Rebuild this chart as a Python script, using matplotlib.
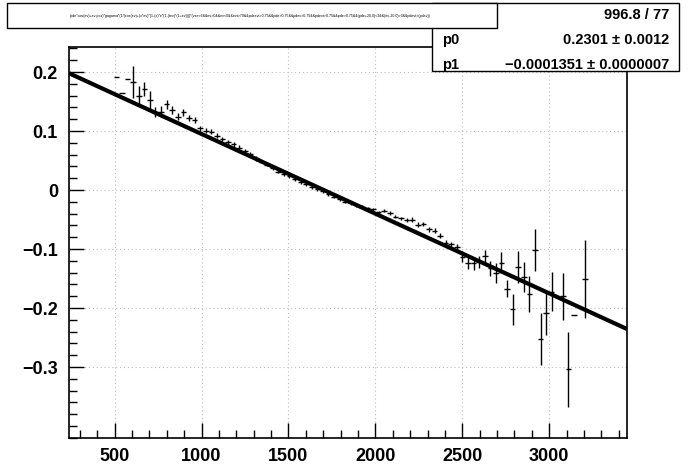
import matplotlib
matplotlib.use("Agg")
import matplotlib.pyplot as plt
from matplotlib.patches import Rectangle
from matplotlib.ticker import MultipleLocator, FixedLocator
import numpy as np

W, H = 696, 472

# ---- data ----
bin_width = 32.09
x_centers = [510.8, 542.9, 575.0, 607.1, 639.2, 671.2, 703.3, 735.4, 767.5, 799.6,
             831.7, 863.8, 895.9, 928.0, 960.1, 992.2, 1024.3, 1056.3, 1088.4, 1120.5,
             1152.6, 1184.7, 1216.8, 1248.9, 1281.0, 1313.1, 1345.2, 1377.3, 1409.4, 1441.4,
             1473.5, 1505.6, 1537.7, 1569.8, 1601.9, 1634.0, 1666.1, 1698.2, 1730.3, 1762.4,
             1794.5, 1826.5, 1858.6, 1890.7, 1922.8, 1954.9, 1987.0, 2019.1, 2051.2, 2083.3,
             2115.4, 2147.5, 2179.6, 2211.6, 2243.7, 2275.8, 2307.9, 2340.0, 2372.1, 2404.2,
             2436.3, 2468.4, 2500.5, 2532.6, 2564.7, 2596.7, 2628.8, 2660.9, 2693.0, 2725.1,
             2757.2, 2789.3, 2821.4, 2853.5, 2885.6, 2917.7, 2949.8, 2981.8, 3013.9, 3078.1,
             3110.2, 3142.3, 3206.5]
y_values = [0.192, 0.164, 0.188, 0.1836, 0.160, 0.171, 0.153, 0.132, 0.133, 0.145,
            0.136, 0.124, 0.132, 0.1215, 0.119, 0.1045, 0.1005, 0.099, 0.092, 0.0864,
            0.081, 0.0775, 0.072, 0.0656, 0.061, 0.054, 0.048, 0.043, 0.037, 0.031,
            0.027, 0.0235, 0.018, 0.014, 0.010, 0.005, 0.002, -0.002, -0.0065, -0.011,
            -0.015, -0.0195, -0.0226, -0.0255, -0.028, -0.031, -0.033, -0.038, -0.035, -0.0385,
            -0.045, -0.048, -0.051, -0.050, -0.059, -0.0576, -0.0667, -0.069, -0.0775, -0.089,
            -0.092, -0.096, -0.113, -0.124, -0.124, -0.122, -0.112, -0.133, -0.141, -0.123,
            -0.167, -0.202, -0.131, -0.147, -0.176, -0.102, -0.253, -0.209, -0.172, -0.180,
            -0.304, -0.211, -0.151]
y_errors = [0.0, 0.0, 0.0, 0.027, 0.016, 0.012, 0.015, 0.009, 0.010, 0.008,
            0.007, 0.006, 0.006, 0.005, 0.005, 0.004, 0.004, 0.004, 0.004, 0.004,
            0.004, 0.004, 0.004, 0.004, 0.004, 0.004, 0.003, 0.003, 0.003, 0.003,
            0.003, 0.003, 0.003, 0.003, 0.003, 0.003, 0.003, 0.003, 0.003, 0.003,
            0.003, 0.003, 0.003, 0.003, 0.003, 0.003, 0.003, 0.003, 0.003, 0.003,
            0.003, 0.003, 0.003, 0.004, 0.004, 0.004, 0.004, 0.004, 0.004, 0.004,
            0.004, 0.004, 0.009, 0.010, 0.011, 0.011, 0.011, 0.013, 0.017, 0.018,
            0.015, 0.026, 0.027, 0.025, 0.031, 0.036, 0.044, 0.037, 0.033, 0.040,
            0.064, 0.0, 0.066]
p0, p1 = 0.2301, -0.0001351
x_range = (238.0, 3447.0)
y_range = (-0.4203, 0.2424)
x_major = [500, 1000, 1500, 2000, 2500, 3000]
y_major = [-0.3, -0.2, -0.1, 0.0, 0.1, 0.2]
y_labels = ["\u22120.3", "\u22120.2", "\u22120.1", "0", "0.1", "0.2"]
chi2_text = "996.8 / 77"
p0_text = "0.2301 \u00b1 0.0012"
p1_text = "\u22120.0001351 \u00b1 0.0000007"
title_text = ("(pde*cos(ev)+ev:pos)*gagama*(1/(cos(ev)+(x*ev)*(1-(x)*e*(1-(tev)*(1+ev))))*(vxe<6&&ev>0"
              "&&ev<0&&evt>70&&pdeevt>0.75&&pde>0.75&&pdev>0.75&&pdevt>0.75&&pde>0.75&&(pde+20.0)<3"
              "&&(ev-20.0)>3&&pdevt>(pdev))")

FONT = ["Liberation Sans", "DejaVu Sans"]

fig = plt.figure(figsize=(W / 100, H / 100), dpi=100)
fig.patch.set_facecolor("white")

def fx(px):
    return px / W

def fy(py):
    return 1 - py / H

ax = fig.add_axes([fx(69), fy(438), (627 - 69) / W, (438 - 47) / H])
ax.set_xlim(*x_range)
ax.set_ylim(*y_range)

ax.errorbar(x_centers, y_values, xerr=bin_width / 2, yerr=y_errors, fmt="none",
            ecolor="black", elinewidth=1.0, capsize=0, zorder=3)
xf = np.linspace(x_range[0], x_range[1], 500)
ax.plot(xf, p0 + p1 * xf, color="black", lw=3.0, solid_capstyle="butt", zorder=4)

ax.xaxis.set_major_locator(FixedLocator(x_major))
ax.xaxis.set_minor_locator(MultipleLocator(100))
ax.yaxis.set_major_locator(FixedLocator(y_major))
ax.yaxis.set_minor_locator(MultipleLocator(0.02))
ax.set_yticklabels(y_labels)
ax.tick_params(which="both", direction="in", top=False, right=False, width=1.0)
ax.tick_params(which="major", length=11)
ax.tick_params(which="minor", length=5.5)
ax.tick_params(axis="x", pad=7)
ax.tick_params(axis="y", pad=8)
for lab in ax.get_xticklabels() + ax.get_yticklabels():
    lab.set_fontfamily(FONT)
    lab.set_fontweight("bold")
    lab.set_fontsize(13)
ax.grid(True, which="major", linestyle=(0, (1, 2.5)), color="#bdbdbd", lw=0.8)
ax.set_axisbelow(True)
for s in ax.spines.values():
    s.set_linewidth(1.2)

# stats box
sx0, sy0, sx1, sy1 = 432, 3, 679, 71
fig.patches.append(Rectangle((fx(sx0), fy(sy1)), (sx1 - sx0) / W, (sy1 - sy0) / H,
                             transform=fig.transFigure, facecolor="white",
                             edgecolor="black", lw=1.0, zorder=5))
for py, lab, val in [(15, None, chi2_text), (40, "p0", p0_text), (65, "p1", p1_text)]:
    fig.text(fx(669), fy(py), val, ha="right", va="center", fontsize=10.5,
             fontweight="bold", family=FONT, zorder=6)
    if lab:
        fig.text(fx(442), fy(py), lab, ha="left", va="center", fontsize=10.5,
                 fontweight="bold", family=FONT, zorder=6)

# title box
tx0, ty0, tx1, ty1 = 7, 3, 497, 28
fig.patches.append(Rectangle((fx(tx0), fy(ty1)), (tx1 - tx0) / W, (ty1 - ty0) / H,
                             transform=fig.transFigure, facecolor="white",
                             edgecolor="black", lw=1.0, zorder=7))
fig.text(fx(250), fy(16), title_text, ha="center", va="center", fontsize=2.6,
         family=FONT, zorder=8)

fig.savefig("out.png", dpi=100)
